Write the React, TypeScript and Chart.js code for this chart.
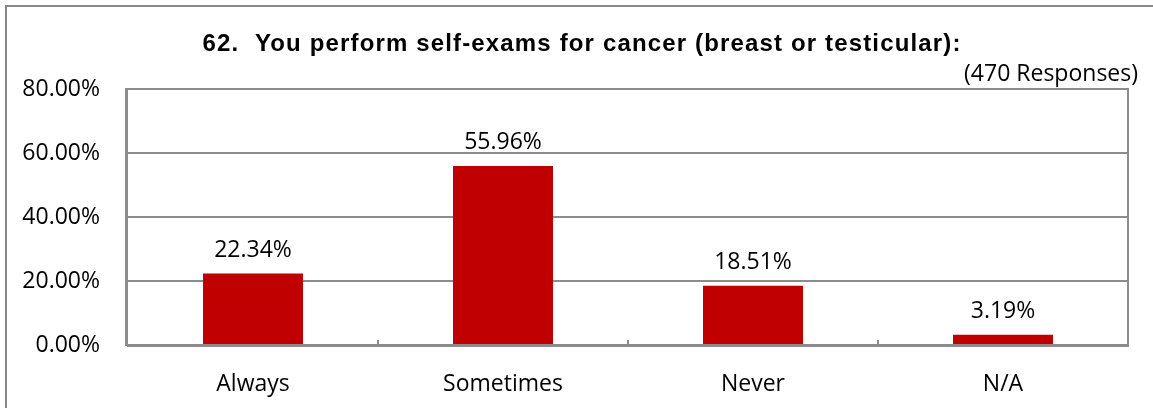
import React, { useEffect, useRef } from "react";
import { Chart, registerables } from "chart.js";

Chart.register(...registerables);

const TITLE = "62.  You perform self-exams for cancer (breast or testicular):";
const SUBTITLE = "(470 Responses)";
const categories = ["Always", "Sometimes", "Never", "N/A"];
const percentages = [22.34, 55.96, 18.51, 3.19];
const yTicks = [0, 20, 40, 60, 80];

const BAR = "#C00000";
const GRID = "#8C8C8C";
const SANS = '"Open Sans", "DejaVu Sans", sans-serif';
const TITLE_FONT = 'bold 24px "Liberation Sans", Arial, sans-serif';

const fmt = (v: number) => v.toFixed(2) + "%";

const decor = {
  id: "decor",
  beforeDraw(chart: any) {
    const ctx = chart.ctx;
    ctx.save();
    ctx.fillStyle = "#ffffff";
    ctx.fillRect(0, 0, chart.width, chart.height);
    ctx.fillStyle = "#888888";
    ctx.fillRect(5, 5, 2, chart.height - 5);
    ctx.fillRect(5, 5, chart.width - 5, 2);
    ctx.restore();
  },
  afterDatasetsDraw(chart: any) {
    const { ctx, chartArea } = chart;
    const xs = chart.scales.x;
    ctx.save();
    ctx.fillStyle = GRID;
    ctx.fillRect(chartArea.left - 3, chartArea.top - 1, 3, chartArea.bottom - chartArea.top + 2);
    ctx.strokeStyle = GRID;
    ctx.lineWidth = 2;
    ctx.beginPath();
    ctx.moveTo(chartArea.right, chartArea.top - 1);
    ctx.lineTo(chartArea.right, chartArea.bottom + 1);
    ctx.stroke();
    for (let i = 1; i < categories.length; i++) {
      const x = (xs.getPixelForValue(i - 1) + xs.getPixelForValue(i)) / 2;
      ctx.beginPath();
      ctx.moveTo(x, chartArea.bottom);
      ctx.lineTo(x, chartArea.bottom - 5);
      ctx.stroke();
    }
    const meta = chart.getDatasetMeta(0);
    ctx.font = `23px ${SANS}`;
    ctx.fillStyle = "#000000";
    ctx.textAlign = "center";
    ctx.textBaseline = "alphabetic";
    meta.data.forEach((bar: any, i: number) => {
      ctx.fillText(fmt(percentages[i]), bar.x, bar.y - 17);
    });
    ctx.restore();
  },
  afterDraw(chart: any) {
    const ctx = chart.ctx;
    ctx.save();
    ctx.fillStyle = "#000000";
    ctx.textBaseline = "alphabetic";
    ctx.font = TITLE_FONT;
    (ctx as any).letterSpacing = "1.15px";
    ctx.textAlign = "center";
    ctx.fillText(TITLE, 582, 51);
    (ctx as any).letterSpacing = "0px";
    ctx.font = `23px ${SANS}`;
    ctx.textAlign = "right";
    ctx.fillText(SUBTITLE, 1138, 81);
    ctx.restore();
  },
};

export default function App() {
  const ref = useRef<HTMLCanvasElement | null>(null);
  useEffect(() => {
    if (!ref.current) return;
    const chart = new Chart(ref.current, {
      type: "bar",
      data: {
        labels: categories,
        datasets: [
          {
            data: percentages,
            backgroundColor: BAR,
            borderWidth: 0,
            categoryPercentage: 1,
            barPercentage: 0.4,
          },
        ],
      },
      options: {
        responsive: false,
        animation: false,
        devicePixelRatio: 1,
        layout: { padding: { left: 0, right: 25, top: 89, bottom: 0 } },
        plugins: {
          legend: { display: false },
          tooltip: { enabled: false },
          title: { display: false },
        },
        scales: {
          x: {
            ticks: { padding: 26, color: "#000000", font: { family: SANS, size: 23 } },
            grid: { display: false, drawTicks: false },
            border: { display: true, color: GRID, width: 3 },
            afterFit: (s: any) => {
              s.height = 63;
            },
          },
          y: {
            min: 0,
            max: 80,
            afterBuildTicks: (s: any) => {
              s.ticks = yTicks.map((v) => ({ value: v }));
            },
            ticks: {
              padding: 28,
              color: "#000000",
              font: { family: SANS, size: 23 },
              callback: (v: any) => fmt(Number(v)),
            },
            grid: { color: GRID, lineWidth: 2, drawTicks: false },
            border: { display: false },
            afterFit: (s: any) => {
              s.width = 128;
            },
          },
        },
      },
      plugins: [decor],
    });
    return () => chart.destroy();
  }, []);
  return (
    <div style={{ position: "absolute", left: 0, top: 0, width: 1153, height: 408 }}>
      <canvas ref={ref} width={1153} height={408} style={{ display: "block" }} />
    </div>
  );
}
